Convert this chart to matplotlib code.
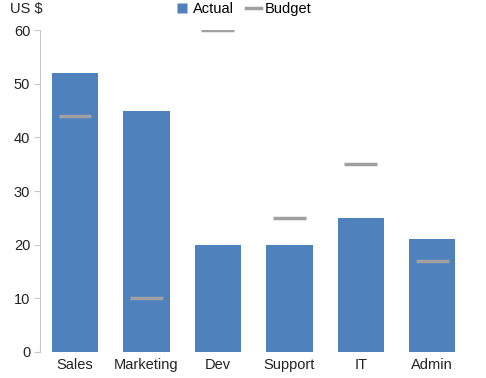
import matplotlib.pyplot as plt
from matplotlib.lines import Line2D

plt.rcParams['font.family'] = ['Liberation Sans', 'DejaVu Sans']

# Data
categories = ['Sales', 'Marketing', 'Dev', 'Support', 'IT', 'Admin']
actual = [52, 45, 20, 20, 25, 21]
budget = [44, 10, 60, 25, 35, 17]

BAR_COLOR = '#4F81BD'
BUDGET_COLOR = '#A0A0A0'

fig = plt.figure(figsize=(4.86, 3.78), dpi=100)
ax = fig.add_axes([0.0823, 0.0688, 0.879, 0.8518])

x = list(range(len(categories)))
ax.bar(x, actual, width=0.65, color=BAR_COLOR, zorder=2)
ax.hlines(budget, [i - 0.23 for i in x], [i + 0.23 for i in x],
          color=BUDGET_COLOR, linewidth=2.5, zorder=3)

ax.set_xlim(-0.49, len(categories) - 0.51)
ax.set_ylim(0, 60)
ax.set_yticks(range(0, 61, 10))
ax.set_xticks(x)
ax.set_xticklabels(categories)

for s in ['top', 'right', 'bottom']:
    ax.spines[s].set_visible(False)
ax.spines['left'].set_color('#C8C8C8')
ax.tick_params(axis='y', colors='#C8C8C8', labelcolor='#222222', length=4,
               labelsize=10.5, pad=3)
ax.tick_params(axis='x', length=0, labelsize=10.5, labelcolor='#222222', pad=4)

fig.text(0.02, 0.995, 'US $', ha='left', va='top', fontsize=10.5, color='#222222')

handles = [Line2D([0], [0], color='none', marker='s', markersize=6.5,
                  markerfacecolor=BAR_COLOR, markeredgecolor='none', label='Actual'),
           Line2D([0], [0], color=BUDGET_COLOR, linewidth=2.5, label='Budget')]
fig.legend(handles=handles, loc='upper center', bbox_to_anchor=(0.5, 1.03),
           ncol=2, frameon=False, fontsize=10.5, handlelength=1.0,
           handletextpad=0.3, columnspacing=0.8)

fig.savefig('out.png', dpi=100)
